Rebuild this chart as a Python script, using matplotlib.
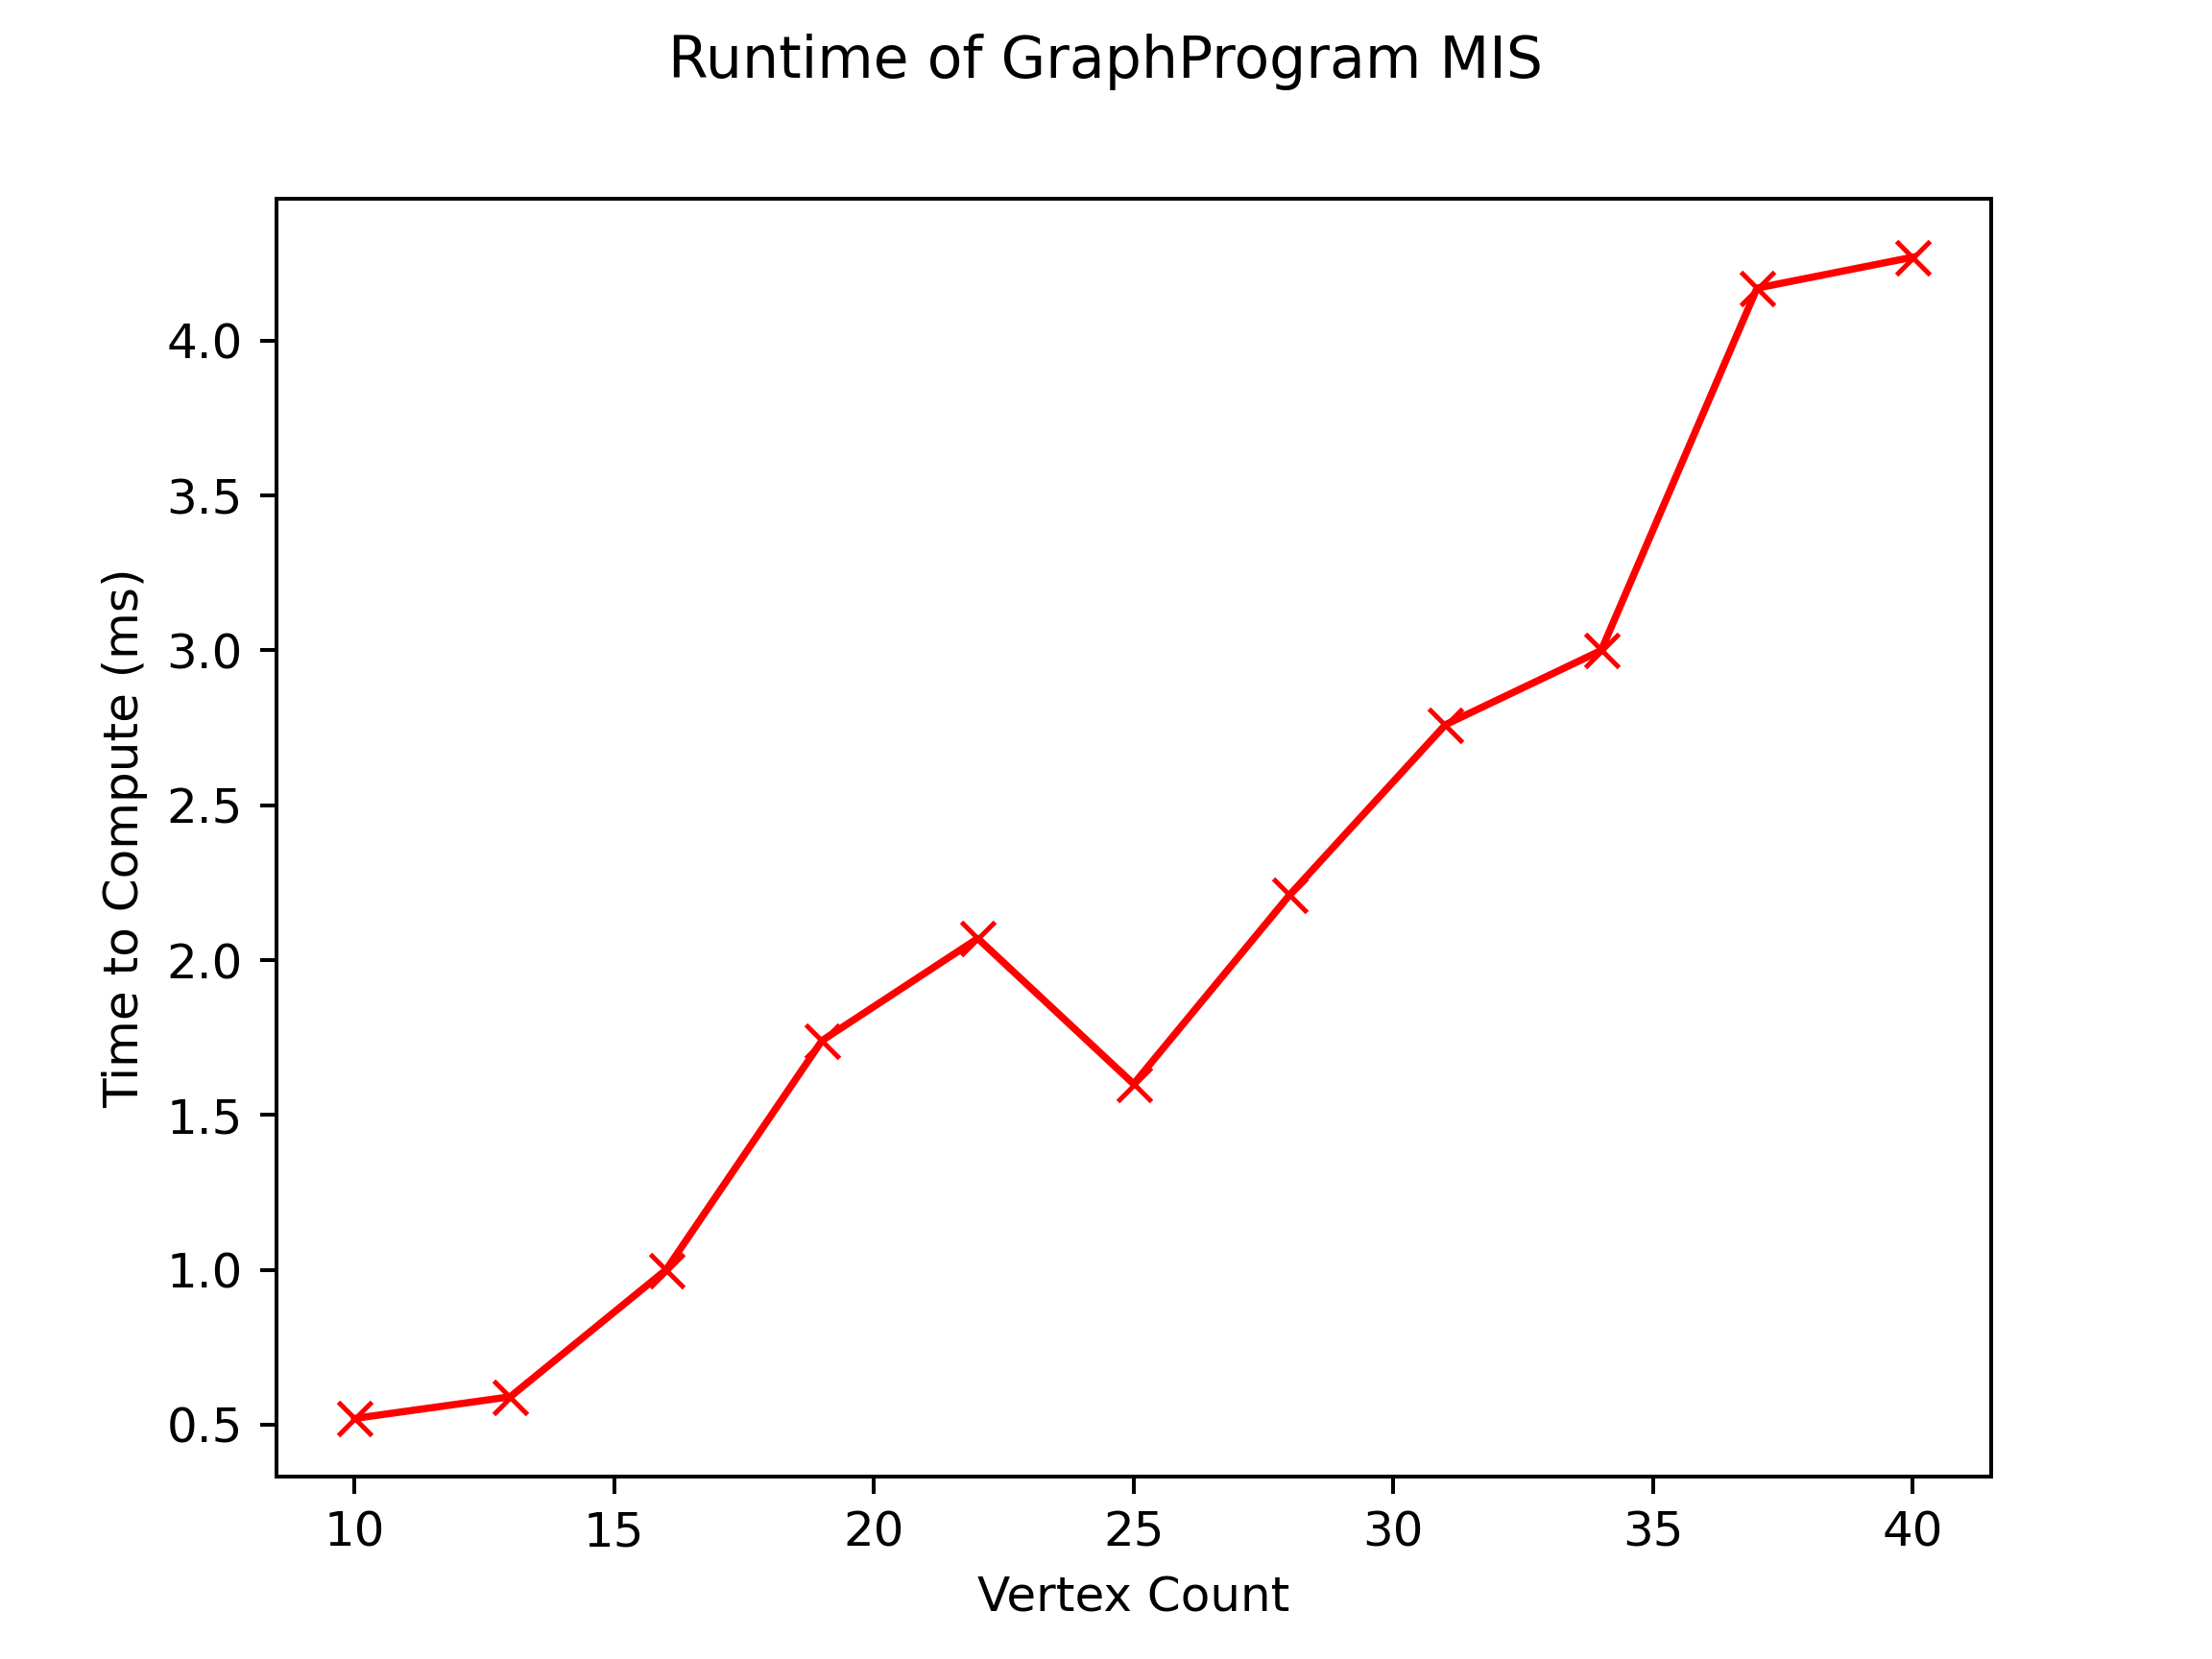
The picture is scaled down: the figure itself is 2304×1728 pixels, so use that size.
import matplotlib
matplotlib.use("Agg")
import matplotlib.pyplot as plt

vertex_count = [10, 13, 16, 19, 22, 25, 28, 31, 34, 37, 40]
runtime_ms = [0.52, 0.59, 1.00, 1.74, 2.07, 1.60, 2.21, 2.76, 3.00, 4.17, 4.27]

fig, ax = plt.subplots(figsize=(6.4, 4.8))
ax.plot(vertex_count, runtime_ms, color="red", marker="x", markersize=7)
ax.set_xlabel("Vertex Count")
ax.set_ylabel("Time to Compute (ms)")
fig.suptitle("Runtime of GraphProgram MIS")
fig.savefig("out.png", dpi=360)
